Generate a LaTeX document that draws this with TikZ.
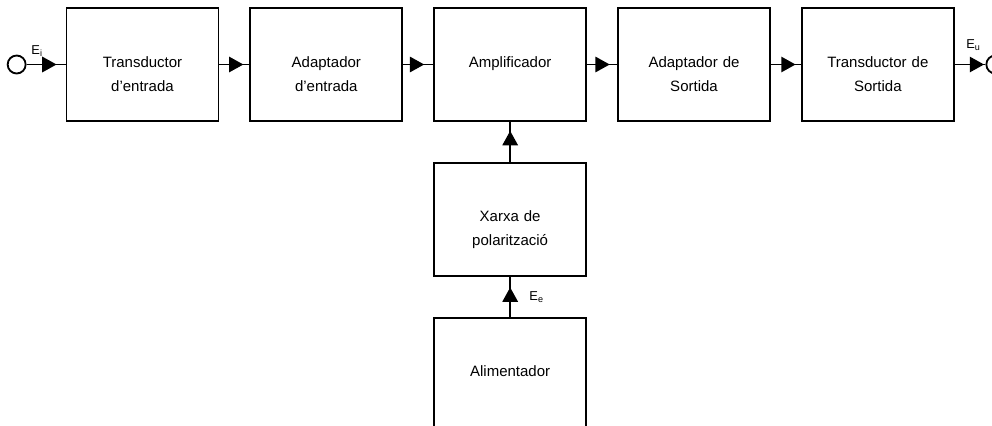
\documentclass[tikz,border=0pt]{standalone}
\usepackage{fontspec}
\setmainfont{Liberation Sans}
\usetikzlibrary{arrows.meta,decorations.markings,positioning}

\begin{document}
\begin{tikzpicture}[
    node distance=12mm and 9mm,
    line width=0.55mm,
    block/.style={draw,rectangle,inner sep=0pt,minimum width=45.6mm,
                  text width=42mm,align=center,
                  text height=17.7mm,text depth=16.2mm,
                  font=\fontsize{12.8}{20.5}\selectfont},
    port/.style={draw,circle,inner sep=0pt,minimum size=5.4mm},
    lbl/.style={inner sep=0pt,font=\fontsize{11}{13}\selectfont},
    conn/.style={postaction={decorate},decoration={markings,
                 mark=at position #1 with {\arrow{Triangle[length=4.3mm,width=4.6mm]}}}},
    conn/.default=-2.2mm]
\useasboundingbox ([xshift=-42.75mm,yshift=19.35mm] 0,0)
        rectangle ([xshift=254.85mm,yshift=-108.15mm] 0,0);
% main chain
\node (ti) [block] at (0,0) {Transductor\\d’entrada};
\node (ai) [block,right=of ti] {Adaptador\\d’entrada};
\node (ap) [block,right=of ai] {Amplificador};
\node (as) [block,right=of ap] {Adaptador de\\Sortida};
\node (ts) [block,right=of as] {Transductor de\\Sortida};
% supply branch
\node (xp) [block,below=of ap] {Xarxa de\\polarització};
\node (al) [block,below=of xp] {Alimentador};
% terminals
\node (in)  [port,left=11.7mm of ti] {};
\node (out) [port,right=9.2mm of ts] {};
\node (ei) [lbl,above right=2mm and 1.2mm of in.east] {E\textsubscript{i}};
\node (eu) [lbl,above left=4mm and 1.2mm of out.west] {E\textsubscript{u}};

\draw[conn=-2.7mm] (in) -- (ti);
\draw[conn=-1.8mm] (ti) -- (ai);
\draw[conn=-2.7mm] (ai) -- (ap);
\draw[conn] (ap) -- (as);
\draw[conn=-1.6mm] (as) -- (ts);
\draw[conn=-0.4mm] (ts) -- (out);
\draw[conn=-2.7mm] (xp) -- (ap);
\draw[conn=-3.2mm] (al) -- node[lbl,right=5.5mm] {E\textsubscript{e}} (xp);
\end{tikzpicture}
\end{document}
